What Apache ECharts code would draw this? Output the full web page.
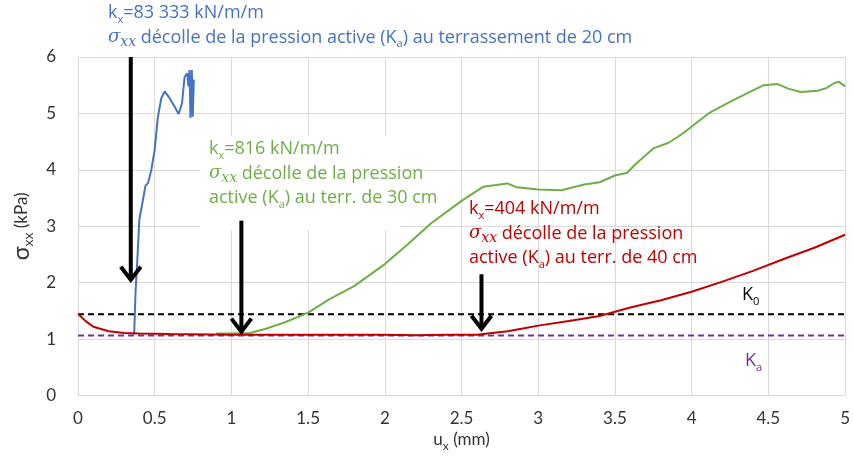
<!DOCTYPE html>
<html><head><meta charset="utf-8">
<script src="https://cdn.jsdelivr.net/npm/echarts@6/dist/echarts.min.js"></script>
<style>html,body{margin:0;padding:0;background:#fff}#c{width:853px;height:457px}</style>
</head><body><div id="c"></div>
<script>
// ---- data ----
const xTicks = [0, 0.5, 1, 1.5, 2, 2.5, 3, 3.5, 4, 4.5, 5];
const yTicks = [0, 1, 2, 3, 4, 5, 6];
const K0 = 1.44;
const Ka = 1.065;

const blueX = [0.366,0.375,0.387,0.40,0.424,0.44,0.457,0.478,0.50,0.52,0.543,0.565,0.597,0.63,0.656,0.678,0.695,0.712,0.72,0.727,0.733,0.742,0.748,0.755];
const blueY = [1.08,1.83,2.42,3.12,3.48,3.72,3.77,4.0,4.36,4.92,5.27,5.39,5.27,5.12,4.99,5.18,5.65,5.71,5.48,5.77,4.92,5.77,4.94,5.6];

const greenX = [0.9,1.0,1.12,1.22,1.35,1.5,1.64,1.8,2.0,2.15,2.3,2.5,2.64,2.8,2.86,3.0,3.15,3.3,3.4,3.5,3.58,3.63,3.75,3.85,3.94,4.11,4.24,4.37,4.47,4.56,4.63,4.71,4.82,4.88,4.93,4.96,5.0];
const greenY = [1.1,1.1,1.11,1.18,1.30,1.47,1.71,1.94,2.33,2.68,3.05,3.45,3.7,3.76,3.69,3.65,3.64,3.74,3.78,3.9,3.95,4.09,4.38,4.48,4.64,5.0,5.19,5.37,5.5,5.52,5.44,5.38,5.40,5.45,5.54,5.56,5.48];

const redX = [0,0.05,0.1,0.2,0.3,0.4,0.6,1.0,1.5,2.0,2.2,2.4,2.6,2.7,2.8,2.9,3.0,3.2,3.4,3.6,3.8,4.0,4.2,4.4,4.6,4.8,5.0];
const redY = [1.45,1.32,1.22,1.14,1.11,1.10,1.09,1.08,1.08,1.08,1.07,1.08,1.08,1.11,1.14,1.19,1.24,1.32,1.41,1.56,1.69,1.84,2.02,2.21,2.42,2.62,2.85];

const arrowU = [0.344, 1.065, 2.63];
const arrowTop = [6.0, 3.1, 2.15];
const arrowTip = [2.0, 1.08, 1.13];

// ---- helpers ----
const FONT = 'Lato, "Open Sans", sans-serif';
const AFONT = '"Open Sans", Lato, sans-serif';
const BLUE = '#4472C4', GREEN = '#70AD47', RED = '#C00000', PURPLE = '#7030A0';
const pairs = (xs, ys) => xs.map((x, i) => [x, ys[i]]);

function richFor(color, size, lh) {
  lh = lh || 24.5;
  return {
    t: {fill: color, fontSize: size, fontFamily: AFONT, lineHeight: lh},
    sub: {fill: color, fontSize: Math.round(size*0.62), fontFamily: AFONT, verticalAlign: 'bottom', lineHeight: lh},
    sig: {fill: color, fontSize: size, fontFamily: '"DejaVu Serif", serif', fontStyle: 'italic', lineHeight: lh},
    sigsub: {fill: color, fontSize: Math.round(size*0.8), fontFamily: '"DejaVu Serif", serif', fontStyle: 'italic', verticalAlign: 'bottom', lineHeight: lh}
  };
}

const chart = echarts.init(document.getElementById('c'), null, {renderer: 'canvas'});

const option = {
  animation: false,
  backgroundColor: '#fff',
  grid: {left: 78, right: 5, top: 57, bottom: 60, containLabel: false},
  xAxis: {
    type: 'value', min: 0, max: 5, interval: 0.5,
    name: '{a|u}{s|x}{a| (mm)}', nameLocation: 'middle', nameGap: 31,
    nameTextStyle: {rich: {
      a: {fontSize: 17, color: '#333', fontFamily: FONT, lineHeight: 22},
      s: {fontSize: 12, color: '#333', fontFamily: FONT, verticalAlign: 'bottom', lineHeight: 24}
    }},
    axisLine: {show: true, lineStyle: {color: '#d9d9d9', width: 1}},
    axisTick: {show: false},
    axisLabel: {color: '#333', fontSize: 17, fontFamily: FONT, margin: 14,
      formatter: v => xTicks.includes(+v.toFixed(1)) ? String(+v.toFixed(1)) : ''},
    splitLine: {show: true, lineStyle: {color: '#d9d9d9', width: 1}}
  },
  yAxis: {
    type: 'value', min: 0, max: 6, interval: 1,
    name: '{g|σ}{s|xx}{a| (kPa)}', nameLocation: 'middle', nameGap: 40, nameRotate: 90,
    nameTextStyle: {rich: {
      g: {fontSize: 23, color: '#333', fontFamily: FONT, lineHeight: 26},
      a: {fontSize: 17, color: '#333', fontFamily: FONT, lineHeight: 26},
      s: {fontSize: 14, color: '#333', fontFamily: FONT, verticalAlign: 'bottom', lineHeight: 28}
    }},
    axisLine: {show: true, lineStyle: {color: '#d9d9d9', width: 1}},
    axisTick: {show: false},
    axisLabel: {color: '#333', fontSize: 17, fontFamily: FONT, margin: 22},
    splitLine: {show: true, lineStyle: {color: '#d9d9d9', width: 1}}
  },
  series: [
    {type: 'line', name: 'K0', data: [[0, K0], [5, K0]], symbol: 'none', z: 3,
     lineStyle: {color: '#000', width: 2, type: [6, 4]}},
    {type: 'line', name: 'Ka', data: [[0, Ka], [5, Ka]], symbol: 'none', z: 3,
     lineStyle: {color: PURPLE, width: 2, type: [6, 4]}},
    {type: 'line', name: 'blue', data: pairs(blueX, blueY), symbol: 'none', z: 4,
     lineStyle: {color: BLUE, width: 2}},
    {type: 'line', name: 'green', data: pairs(greenX, greenY), symbol: 'none', z: 4,
     lineStyle: {color: GREEN, width: 2}},
    {type: 'line', name: 'red', data: pairs(redX, redY), symbol: 'none', z: 5,
     lineStyle: {color: RED, width: 2}},
    {type: 'custom', name: 'arrows', z: 6, clip: false,
     data: arrowU.map((u, i) => [u, arrowTop[i], arrowTip[i]]),
     renderItem: (params, api) => {
       const top = api.coord([api.value(0), api.value(1)]);
       const tip = api.coord([api.value(0), api.value(2)]);
       const st = {stroke: '#000', lineWidth: 4, fill: null};
       return {type: 'group', children: [
         {type: 'line', shape: {x1: top[0], y1: top[1], x2: tip[0], y2: tip[1] - 3}, style: st},
         {type: 'polyline', shape: {points: [[tip[0] - 10, tip[1] - 16], [tip[0], tip[1] - 3], [tip[0] + 10, tip[1] - 16]]},
          style: Object.assign({lineJoin: 'miter'}, st)}
       ]};
     }}
  ],
  graphic: [
    {type: 'rect', z: 1, shape: {x: 200, y: 136, width: 200, height: 94}, style: {fill: '#fff'}},
    {type: 'text', z: 100, left: 108, top: 4, style: {
      text: '{t|k}{sub|x}{t|=83 333 kN/m/m}\n{sig|σ}{sigsub|xx}{t| décolle de la pression active (K}{sub|a}{t|) au terrassement de 20 cm}',
      rich: richFor(BLUE, 18)}},
    {type: 'text', z: 100, left: 209, top: 140, style: {
      text: '{t|k}{sub|x}{t|=816 kN/m/m}\n{sig|σ}{sigsub|xx}{t| décolle de la pression}\n{t|active (K}{sub|a}{t|) au terr. de 30 cm}',
      rich: richFor(GREEN, 18)}},
    {type: 'text', z: 100, left: 469, top: 200, style: {
      text: '{t|k}{sub|x}{t|=404 kN/m/m}\n{sig|σ}{sigsub|xx}{t| décolle de la pression}\n{t|active (K}{sub|a}{t|) au terr. de 40 cm}',
      rich: richFor(RED, 18)}},
    {type: 'text', z: 100, left: 742, top: 286, style: {
      text: '{t|K}{sub|0}', rich: richFor('#000', 18)}},
    {type: 'text', z: 100, left: 745, top: 352, style: {
      text: '{t|K}{sub|a}', rich: richFor(PURPLE, 18)}}
  ]
};
chart.setOption(option);
</script>
</body></html>
